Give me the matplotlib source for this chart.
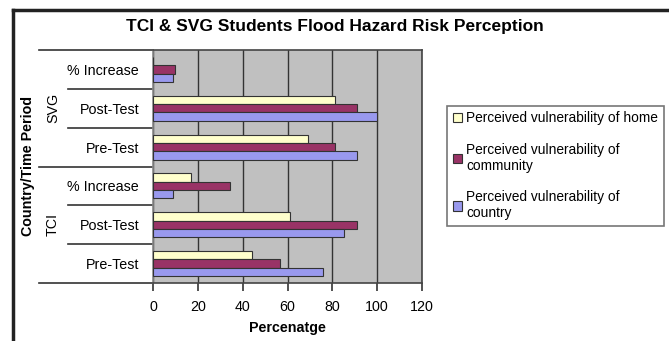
import matplotlib.pyplot as plt
import matplotlib.transforms as mtransforms
from matplotlib.lines import Line2D
import numpy as np

plt.rcParams['font.family'] = ['Liberation Sans', 'DejaVu Sans']

# categories from bottom to top
categories = ["Pre-Test", "Post-Test", "% Increase", "Pre-Test", "Post-Test", "% Increase"]
groups = ["TCI", "SVG"]
home = [44, 61, 17, 69, 81, 0]
community = [56.5, 91, 34.5, 81, 91, 10]
country = [76, 85, 9, 91, 100, 9]
series_names = ["Perceived vulnerability of home",
                "Perceived vulnerability of\ncommunity",
                "Perceived vulnerability of\ncountry"]
colors = ["#FFFFCC", "#993366", "#9999EE"]
xticks = [0, 20, 40, 60, 80, 100, 120]

W, H = 669, 341
fig = plt.figure(figsize=(W / 100, H / 100), dpi=100)
ax = fig.add_axes([153 / W, 1 - 283 / H, (422 - 153) / W, (283 - 50) / H])
ax.set_facecolor("#C0C0C0")

y = np.arange(len(categories))
bh = 0.215
bars = []
for i, (vals, c) in enumerate(zip([home, community, country], colors)):
    b = ax.barh(y + (1 - i) * bh, vals, height=bh, color=c, edgecolor="#333333",
                linewidth=0.8, zorder=3)
    bars.append(b)

fs = 10.3
ax.set_xlim(0, 120)
ax.set_ylim(-0.5, len(categories) - 0.5)
ax.set_xticks(xticks)
ax.set_xticklabels([str(t) for t in xticks], fontsize=fs)
ax.tick_params(axis="x", direction="out", length=6, width=1.2, color="#333333", pad=6)
ax.set_yticks(y)
ax.set_yticklabels(categories, fontsize=fs)
ax.tick_params(axis="y", length=0, pad=10)
ax.xaxis.grid(True, color="#333333", linewidth=1, zorder=0)
ax.set_axisbelow(True)
for s in ax.spines.values():
    s.set_color("#444444")
    s.set_linewidth(1.2)
ax.spines["left"].set_color("#888888")
ax.set_xlabel("Percenatge", fontsize=fs, fontweight="bold", labelpad=5)

# category separators in the label area
trans = mtransforms.blended_transform_factory(ax.transAxes, ax.transData)
x_long = (39 - 153) / (422 - 153)
x_short = (68 - 153) / (422 - 153)
for k in range(len(categories) + 1):
    yy = k - 0.5
    x0 = x_long if k in (0, 3, 6) else x_short
    ax.plot([x0, 0], [yy, yy], transform=trans, color="#333333", linewidth=1.2,
            clip_on=False)

# group labels
gx = (53 - 153) / (422 - 153)
ax.text(gx, 1, groups[0], transform=trans, rotation=90, ha="center", va="center",
        fontsize=fs)
ax.text(gx, 4, groups[1], transform=trans, rotation=90, ha="center", va="center",
        fontsize=fs)
fig.text(28 / W, 1 - 166 / H, "Country/Time Period", rotation=90, ha="center",
         va="center", fontsize=fs, fontweight="bold")

fig.text(0.5, 1 - 27 / H, "TCI & SVG Students Flood Hazard Risk Perception",
         ha="center", va="center", fontsize=12.5, fontweight="bold")

leg = fig.legend(bars, series_names, loc="upper left",
                 bbox_to_anchor=(447 / W, 1 - 106 / H), fontsize=9.9,
                 frameon=True, fancybox=False, edgecolor="#555555",
                 handlelength=0.7, handleheight=0.7, handletextpad=0.3,
                 labelspacing=1.25, borderpad=0.4, borderaxespad=0)
leg.get_frame().set_linewidth(1.2)

# outer frame
fig.add_artist(Line2D([13 / W, 13 / W], [0, 1 - 10 / H], color="#222222", linewidth=2.5))
fig.add_artist(Line2D([13 / W, 1], [1 - 10 / H, 1 - 10 / H], color="#222222", linewidth=2.5))

fig.savefig("out.png", dpi=100)
